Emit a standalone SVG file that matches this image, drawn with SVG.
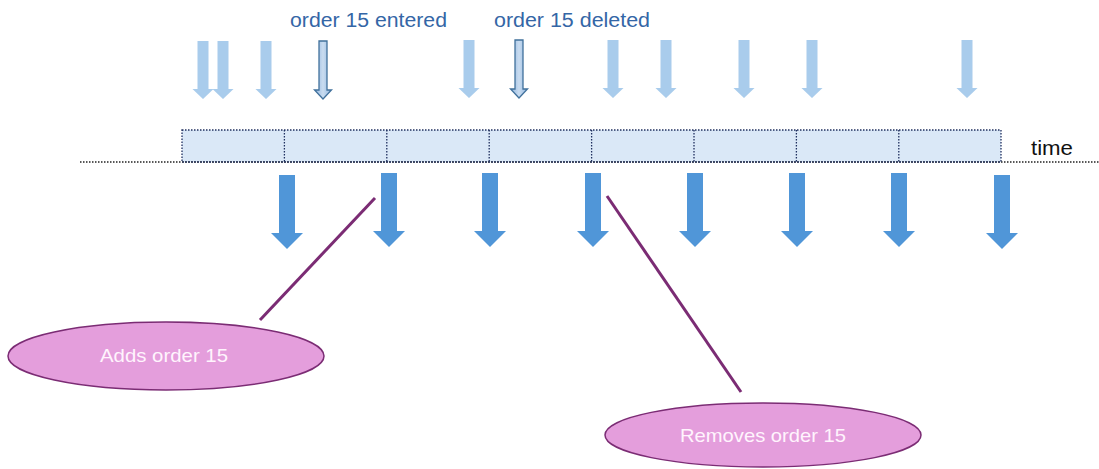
<svg xmlns="http://www.w3.org/2000/svg" width="1099" height="469" viewBox="0 0 1099 469">
<style>
.lt{fill:#A9CCEC}
.dk{fill:url(#g);stroke:#41719C;stroke-width:1.3}
.big{fill:#5096D8}
.cell{fill:none;stroke:#1F2F5F;stroke-width:1.3;stroke-dasharray:1.5 1.5}
.lbl{font-family:"Liberation Sans",Arial,sans-serif;font-size:20px;fill:#3466A6}
.ell{fill:#E49EDC;stroke:#7B2C74;stroke-width:1.5}
.et{font-family:"Liberation Sans",Arial,sans-serif;font-size:19px;fill:#FFF4FD;text-anchor:middle}
.pl{stroke:#7B2C74;stroke-width:3;fill:none}
</style>
<defs>
<linearGradient id="g" x1="0" y1="0" x2="1" y2="0">
<stop offset="0" stop-color="#8FB4DE"/><stop offset="0.5" stop-color="#C9DCF0"/><stop offset="1" stop-color="#8FB4DE"/>
</linearGradient>
<path id="sa" d="M-5.5,0 H5.5 V48 H10.5 L0,58 L-10.5,48 H-5.5 Z"/>
<path id="da" d="M-4,0 H4 V49 H8.5 L0,58 L-8.5,49 H-4 Z"/>
<path id="ba" d="M-8,0 H8 V58 H16 L0,74 L-16,58 H-8 Z"/>
</defs>
<rect width="1099" height="469" fill="#FFFFFF"/>
<g id="timeline">
<rect x="182" y="130" width="819" height="32" fill="#DAE8F7"/>
<line x1="80" y1="162" x2="1099" y2="162" stroke="#222" stroke-width="1.3" stroke-dasharray="1.5 1.5"/>
<rect class="cell" x="182" y="130" width="819" height="32"/>
<path class="cell" d="M284.4,130V162M386.8,130V162M489.2,130V162M591.6,130V162M694,130V162M796.4,130V162M898.8,130V162"/>
<text x="1031" y="155" font-family="'Liberation Sans',Arial,sans-serif" font-size="20" fill="#111" textLength="42" lengthAdjust="spacingAndGlyphs">time</text>
</g>
<g id="incoming">
<use href="#sa" class="lt" x="203" y="41"/>
<use href="#sa" class="lt" x="223" y="41"/>
<use href="#sa" class="lt" x="266" y="41"/>
<use href="#da" class="dk" x="323" y="41"/>
<use href="#sa" class="lt" x="469" y="40"/>
<use href="#da" class="dk" x="519" y="40"/>
<use href="#sa" class="lt" x="613" y="40"/>
<use href="#sa" class="lt" x="666" y="40"/>
<use href="#sa" class="lt" x="744" y="40"/>
<use href="#sa" class="lt" x="812" y="40"/>
<use href="#sa" class="lt" x="967" y="40"/>
</g>
<g id="labels">
<text class="lbl" x="290" y="27" textLength="157" lengthAdjust="spacingAndGlyphs">order 15 entered</text>
<text class="lbl" x="494" y="27" textLength="156" lengthAdjust="spacingAndGlyphs">order 15 deleted</text>
</g>
<g id="snapshots">
<use href="#ba" class="big" x="287" y="175"/>
<use href="#ba" class="big" x="389" y="173"/>
<use href="#ba" class="big" x="490" y="173"/>
<use href="#ba" class="big" x="593" y="173"/>
<use href="#ba" class="big" x="695" y="173"/>
<use href="#ba" class="big" x="797" y="173"/>
<use href="#ba" class="big" x="899" y="173"/>
<use href="#ba" class="big" x="1002" y="175"/>
</g>
<g id="connectors">
<line class="pl" x1="375" y1="198" x2="260" y2="320"/>
<line class="pl" x1="607" y1="196" x2="741" y2="392"/>
</g>
<g id="adds">
<ellipse class="ell" cx="166" cy="356" rx="158" ry="34"/>
<text class="et" x="164" y="362" textLength="128" lengthAdjust="spacingAndGlyphs">Adds order 15</text>
</g>
<g id="removes">
<ellipse class="ell" cx="763" cy="435" rx="158" ry="32"/>
<text class="et" x="763" y="442" textLength="166" lengthAdjust="spacingAndGlyphs">Removes order 15</text>
</g>
</svg>
